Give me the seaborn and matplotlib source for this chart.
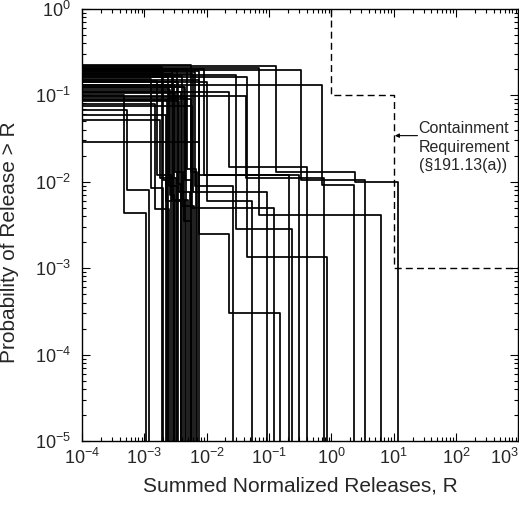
import numpy as np
import pandas as pd
import matplotlib
matplotlib.use("Agg")
import matplotlib.pyplot as plt
import seaborn as sns
from matplotlib.ticker import LogLocator, FixedLocator, LogFormatterSciNotation, NullFormatter

# ---------------- data ----------------
# Each CCDF: probability levels (starting at R = 1e-4) and the release values
# at which the curve steps down to the next level (last step goes to zero).
curve_levels = [
    [0.215, 0.0129, 0.0098], [0.205, 0.0041], [0.195, 0.0104], [0.13, 0.0091],
    [0.17, 0.0028], [0.16, 0.00134], [0.15, 0.0025, 0.0003], [0.11, 0.0147],
    [0.098, 0.011], [0.19, 0.012], [0.029], [0.14, 0.006],
    [0.175, 0.0075], [0.09, 0.005], [0.2, 0.012], [0.1, 0.0043],
    [0.067, 0.008], [0.21], [0.18, 0.0105], [0.16],
    [0.145, 0.012], [0.13], [0.12, 0.009], [0.11],
    [0.105, 0.013], [0.095], [0.085, 0.0075], [0.075],
    [0.059, 0.006], [0.051, 0.011], [0.2, 0.0062], [0.19, 0.0095],
    [0.175], [0.165, 0.0052], [0.155, 0.0085], [0.14],
    [0.125, 0.0035], [0.115, 0.007], [0.088], [0.078, 0.0048],
    [0.22, 0.013], [0.2, 0.014], [0.185, 0.0088], [0.125, 0.0105],
]
curve_releases = [
    [0.13, 2.4, 11.5], [0.069, 6.3], [0.33, 3.5], [0.7, 2.3],
    [0.03, 0.23], [0.045, 0.85], [0.0076, 0.023, 0.15], [0.023, 0.4],
    [0.043, 0.75], [0.0076, 0.3], [0.0076], [0.01, 0.053],
    [0.006, 0.093], [0.0055, 0.12], [0.009, 0.21], [4.8e-4, 1.05e-3],
    [5.2e-4, 1.2e-3], [1.9e-3], [2.0e-3, 2.2e-3], [2.4e-3],
    [1.6e-3, 2.7e-3], [3.0e-3], [2.5e-3, 3.4e-3], [3.8e-3],
    [3.1e-3, 4.2e-3], [4.7e-3], [3.6e-3, 5.3e-3], [5.9e-3],
    [2.2e-3, 4.5e-3], [1.8e-3, 3.2e-3], [2.8e-3, 5.0e-3], [3.3e-3, 3.9e-3],
    [2.9e-3], [4.0e-3, 6.2e-3], [1.3e-3, 2.0e-3], [3.5e-3],
    [4.4e-3, 5.6e-3], [2.6e-3, 3.0e-3], [2.3e-3], [1.5e-3, 2.5e-3],
    [5.5e-3, 7.0e-3], [4.9e-3, 6.8e-3], [0.0065, 0.026], [0.0045, 0.0055],
]

# Containment requirement (EPA 40 CFR 191.13(a))
req_R = [1.0, 1.0, 10.0, 10.0, 1000.0]
req_P = [1.0, 0.1, 0.1, 0.001, 0.001]

x_ticks = [1e-4, 1e-3, 1e-2, 1e-1, 1e0, 1e1, 1e2, 1e3]
y_ticks = [1e-5, 1e-4, 1e-3, 1e-2, 1e-1, 1e0]

x_label = "Summed Normalized Releases, R"
y_label = "Probability of Release > R"
note = "Containment\nRequirement\n(\u00a7191.13(a))"

# ---------------- build long table ----------------
R_START = 1e-4
FLOOR = 1e-7
rows = []
for i, (lv, rl) in enumerate(zip(curve_levels, curve_releases)):
    xs = [R_START] + list(rl)
    ys = list(lv) + [FLOOR]
    for k, (x, y) in enumerate(zip(xs, ys)):
        rows.append({"curve": i, "order": k, "R": x, "P": y})
df = pd.DataFrame(rows)
req_df = pd.DataFrame({"R": req_R, "P": req_P, "unit": 0})

# ---------------- plot ----------------
sns.set_theme(style="ticks")
plt.rcParams["font.family"] = ["Liberation Sans", "DejaVu Sans"]
plt.rcParams["mathtext.fontset"] = "custom"
plt.rcParams["mathtext.rm"] = "Liberation Sans"
plt.rcParams["mathtext.it"] = "Liberation Sans:italic"
plt.rcParams["mathtext.bf"] = "Liberation Sans:bold"

fig, ax = plt.subplots(figsize=(5.19, 5.07), dpi=100)
fig.subplots_adjust(left=0.158, right=0.999, bottom=0.130, top=0.983)
ax.set_xscale("log")
ax.set_yscale("log")

sns.lineplot(data=df, x="R", y="P", units="curve", estimator=None, sort=False,
             color="black", lw=1.25, drawstyle="steps-post", legend=False, ax=ax)
sns.lineplot(data=req_df, x="R", y="P", units="unit", estimator=None, sort=False,
             color="black", lw=1.0, linestyle=(0, (5, 3)), legend=False, ax=ax)

ax.set_xlim(1e-4, 1e3)
ax.set_ylim(1e-5, 1e0)

ax.xaxis.set_major_locator(FixedLocator(x_ticks))
ax.yaxis.set_major_locator(FixedLocator(y_ticks))
ax.xaxis.set_major_formatter(LogFormatterSciNotation())
ax.yaxis.set_major_formatter(LogFormatterSciNotation())
ax.xaxis.set_minor_locator(LogLocator(base=10, subs=np.arange(2, 10), numticks=50))
ax.yaxis.set_minor_locator(LogLocator(base=10, subs=np.arange(2, 10), numticks=50))
ax.xaxis.set_minor_formatter(NullFormatter())
ax.yaxis.set_minor_formatter(NullFormatter())
ax.tick_params(which="both", direction="in", top=True, right=True, color="black", width=0.8)
ax.tick_params(which="major", length=6, labelsize=13)
ax.tick_params(axis="x", which="major", pad=5)
ax.tick_params(axis="y", which="major", pad=8)
ax.tick_params(which="minor", length=3)
for s in ax.spines.values():
    s.set_color("black")
    s.set_linewidth(1.0)

ax.set_xlabel(x_label, fontsize=15, labelpad=6)
ax.set_ylabel(y_label, fontsize=15, labelpad=6)
ax.yaxis.set_label_coords(-0.145, 0.46)

ax.annotate("", xy=(10.4, 0.034), xytext=(24, 0.034),
            arrowprops=dict(arrowstyle="-|>", lw=0.8, color="black",
                            mutation_scale=6, shrinkA=0, shrinkB=0))
ax.text(25, 0.050, note, fontsize=11.5, ha="left", va="top", linespacing=1.3)

fig.canvas.draw()
xt = ax.xaxis.get_major_ticks()
xt[-1].label1.set_horizontalalignment("right")
xt[-1].label1.set_x(1e3)

fig.savefig("out.png", dpi=100)
